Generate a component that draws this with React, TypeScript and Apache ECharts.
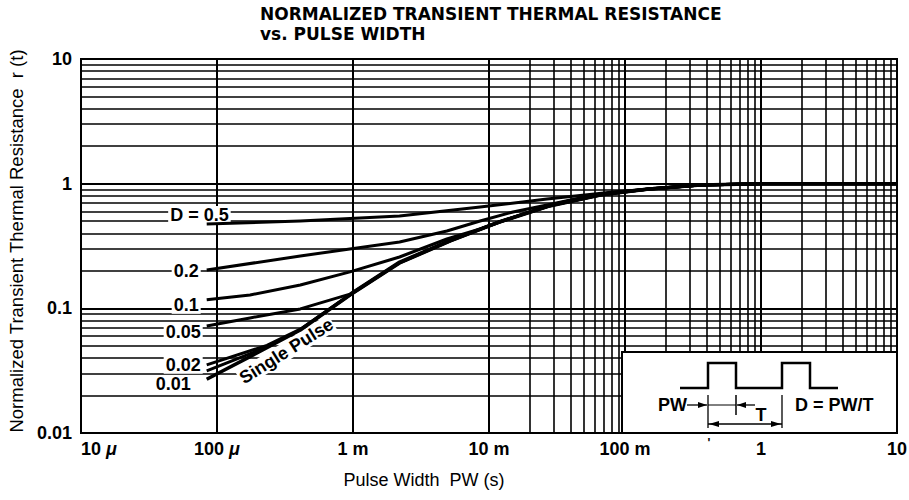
import React, { useEffect, useRef } from 'react';
import * as echarts from 'echarts';

const FONT = '"Liberation Sans", Arial, Helvetica, sans-serif';
const TITLE_FONT = '"DejaVu Sans", "Liberation Sans", Arial, sans-serif';

// ---- axes ----
const X_MIN = 1e-5;
const X_MAX = 10;
const Y_MIN = 0.01;
const Y_MAX = 10;
const xTickLabels = ['10 μ', '100 μ', '1 m', '10 m', '100 m', '1', '10'];
const yTickLabels = ['0.01', '0.1', '1', '10'];
const xDecades = [1e-5, 1e-4, 1e-3, 1e-2, 1e-1, 1];
const yDecades = [0.01, 0.1, 1];
const gridMultipliers = [2, 3, 4, 5, 6, 7, 8, 9];

// ---- curves: pulse width (s) and normalized r(t) ----
const pwD05 = [8.4e-5, 4.1e-4, 2.2e-3, 8.6e-3, 0.0267, 0.082, 0.36, 1, 10];
const rD05 = [0.475, 0.502, 0.551, 0.65, 0.754, 0.858, 0.976, 1, 1];

const pwD02 = [8.4e-5, 4.1e-4, 2.2e-3, 4.9e-3, 8.6e-3, 0.015, 0.0267, 0.0467, 0.082, 0.36, 1, 10];
const rD02 = [0.203, 0.263, 0.341, 0.417, 0.502, 0.593, 0.675, 0.768, 0.855, 0.976, 1, 1];

const pwD01 = [8.4e-5, 1.75e-4, 4.1e-4, 9.5e-4, 2.2e-3, 4.9e-3, 8.6e-3, 0.028, 0.066, 0.15, 0.36, 1, 10];
const rD01 = [0.117, 0.128, 0.154, 0.196, 0.258, 0.36, 0.433, 0.675, 0.827, 0.91, 0.976, 1, 1];

const pwD005 = [8.4e-5, 1.75e-4, 4.1e-4, 9.5e-4, 2.2e-3, 5.2e-3, 0.012, 0.028, 0.066, 0.15, 0.36, 1, 10];
const rD005 = [0.0722, 0.0838, 0.0989, 0.13, 0.236, 0.352, 0.498, 0.668, 0.815, 0.908, 0.976, 1, 1];

const pwD002 = [8.4e-5, 2.33e-4, 4.1e-4, 9.5e-4, 2.2e-3, 5.2e-3, 0.012, 0.028, 0.066, 0.15, 0.36, 1, 10];
const rD002 = [0.0352, 0.0505, 0.068, 0.129, 0.233, 0.349, 0.495, 0.665, 0.813, 0.907, 0.976, 1, 1];

const pwD001 = [8.4e-5, 2.33e-4, 4.1e-4, 9.5e-4, 2.2e-3, 5.2e-3, 0.012, 0.028, 0.066, 0.15, 0.36, 1, 10];
const rD001 = [0.0315, 0.049, 0.0675, 0.128, 0.232, 0.348, 0.494, 0.664, 0.812, 0.907, 0.976, 1, 1];

const pwSingle = [8.4e-5, 1.75e-4, 4.1e-4, 9.5e-4, 2.2e-3, 5.2e-3, 0.012, 0.028, 0.066, 0.15, 0.36, 1, 10];
const rSingle = [0.027, 0.041, 0.067, 0.128, 0.231, 0.347, 0.493, 0.663, 0.812, 0.907, 0.976, 1, 1];

const curveNames = ['D = 0.5', '0.2', '0.1', '0.05', '0.02', '0.01', 'Single Pulse'];
const curvePW = [pwD05, pwD02, pwD01, pwD005, pwD002, pwD001, pwSingle];
const curveR = [rD05, rD02, rD01, rD005, rD002, rD001, rSingle];

// label placement (pixel offsets from the first point of each D curve)
const labelOffsets: [number, number][] = [
  [24, -9],
  [-6, 1],
  [-6, 5],
  [-4, 6],
  [-4, 0],
  [-14, 13],
];

export default function App() {
  const ref = useRef<HTMLDivElement>(null);

  useEffect(() => {
    const el = ref.current!;
    const chart = echarts.init(el, null, { renderer: 'svg' });

    const gridLineData: any[] = [];
    xDecades.forEach((d) => gridMultipliers.forEach((m) => gridLineData.push({ xAxis: d * m })));
    yDecades.forEach((d) => gridMultipliers.forEach((m) => gridLineData.push({ yAxis: d * m })));

    const series: any[] = [
      {
        name: 'grid',
        type: 'line',
        data: [[X_MIN, Y_MIN]],
        symbol: 'none',
        silent: true,
        lineStyle: { width: 0 },
        markLine: {
          silent: true,
          z: 1,
          symbol: ['none', 'none'],
          label: { show: false },
          emphasis: { disabled: true },
          animation: false,
          lineStyle: { color: '#000', width: 1.6, type: 'solid', opacity: 1 },
          data: gridLineData,
        },
      },
    ];

    curveNames.forEach((name, i) => {
      series.push({
        name,
        type: 'line',
        z: 3,
        symbol: 'none',
        smooth: false,
        silent: true,
        lineStyle: { color: '#000', width: i === 6 ? 3.5 : 3, join: 'round' },
        data: curvePW[i].map((x, k) => [x, curveR[i][k]]),
      });
    });

    const option: any = {
      animation: false,
      backgroundColor: '#fff',
      title: {
        text: 'NORMALIZED TRANSIENT THERMAL RESISTANCE\nvs. PULSE WIDTH',
        left: 260,
        top: 4,
        padding: 0,
        textStyle: {
          fontFamily: TITLE_FONT,
          fontWeight: 'bold',
          fontSize: 17,
          lineHeight: 20,
          color: '#000',
        },
      },
      grid: {
        left: 81,
        right: 12,
        top: 59,
        bottom: 67,
        show: true,
        borderColor: '#000',
        borderWidth: 2,
        backgroundColor: '#fff',
        outerBoundsMode: 'none',
      },
      xAxis: {
        type: 'log',
        logBase: 10,
        min: X_MIN,
        max: X_MAX,
        name: 'Pulse Width  PW (s)',
        nameLocation: 'middle',
        nameGap: 38,
        nameTextStyle: {
          fontFamily: FONT,
          fontSize: 18,
          color: '#000',
          padding: [0, 130, 0, 0],
        },
        axisLine: { show: true, lineStyle: { color: '#000', width: 2 } },
        axisTick: { show: false },
        splitLine: { show: true, lineStyle: { color: '#000', width: 2 } },
        axisLabel: {
          margin: 7,
          color: '#000',
          fontFamily: FONT,
          fontWeight: 'bold',
          fontSize: 18,
          alignMinLabel: 'left',
          showMinLabel: true,
          showMaxLabel: true,
          formatter: (v: number) => {
            const idx = Math.round(Math.log10(v)) + 5;
            const s = xTickLabels[idx] ?? '';
            if (s.indexOf('μ') >= 0) {
              return '{n|' + s.replace(' μ', '') + '} {u|μ}';
            }
            return s;
          },
          rich: {
            n: { fontFamily: FONT, fontWeight: 'bold', fontSize: 18, color: '#000' },
            u: { fontFamily: FONT, fontWeight: 'bold', fontStyle: 'italic', fontSize: 18, color: '#000' },
          },
        },
      },
      yAxis: {
        type: 'log',
        logBase: 10,
        min: Y_MIN,
        max: Y_MAX,
        name: 'Normalized Transient Thermal Resistance  r (t)',
        nameLocation: 'middle',
        nameGap: 52,
        nameTextStyle: {
          fontFamily: FONT,
          fontSize: 18.5,
          color: '#000',
          padding: [0, 0, 0, 10],
        },
        axisLine: { show: true, lineStyle: { color: '#000', width: 2 } },
        axisTick: { show: false },
        splitLine: { show: true, lineStyle: { color: '#000', width: 2 } },
        axisLabel: {
          margin: 9,
          color: '#000',
          fontFamily: FONT,
          fontWeight: 'bold',
          fontSize: 18,
          showMinLabel: true,
          showMaxLabel: true,
          formatter: (v: number) => {
            const idx = Math.round(Math.log10(v)) + 2;
            return yTickLabels[idx] ?? '';
          },
        },
      },
      series,
    };

    chart.setOption(option);

    const toPx = (p: [number, number]) =>
      chart.convertToPixel({ gridIndex: 0 }, p) as unknown as number[];

    const graphics: any[] = [];

    // D labels at the start of each curve
    labelOffsets.forEach(([dx, dy], i) => {
      const [px, py] = toPx([curvePW[i][0], curveR[i][0]]);
      graphics.push({
        type: 'text',
        z: 2,
        x: px + dx,
        y: py + dy,
        silent: true,
        style: {
          text: curveNames[i],
          fontFamily: FONT,
          fontWeight: 'bold',
          fontSize: 18,
          fill: '#000',
          align: 'right',
          verticalAlign: 'middle',
          backgroundColor: '#fff',
          padding: [0, 2],
        },
      });
    });

    // Single Pulse label
    {
      const [px, py] = toPx([pwSingle[2], rSingle[2]]);
      graphics.push({
        type: 'text',
        z: 2,
        x: px - 14,
        y: py + 21,
        rotation: 0.56,
        silent: true,
        style: {
          text: 'Single Pulse',
          fontFamily: FONT,
          fontWeight: 'bold',
          fontSize: 18,
          fill: '#000',
          align: 'center',
          verticalAlign: 'middle',
          backgroundColor: '#fff',
          padding: [0, 1],
        },
      });
    }

    // inset with the pulse train
    const ink = { stroke: '#000', fill: 'none' };
    graphics.push(
      {
        type: 'rect',
        z: 10,
        silent: true,
        shape: { x: 622, y: 352, width: 275, height: 81 },
        style: { fill: '#fff', stroke: '#000', lineWidth: 2 },
      },
      {
        type: 'polyline',
        z: 11,
        silent: true,
        shape: {
          points: [
            [680, 388], [708, 388], [708, 363], [736, 363], [736, 388],
            [782, 388], [782, 363], [810, 363], [810, 388], [838, 388],
          ],
        },
        style: { ...ink, lineWidth: 2.5 },
      },
      { type: 'line', z: 11, silent: true, shape: { x1: 687, y1: 405, x2: 707, y2: 405 }, style: { ...ink, lineWidth: 1.3 } },
      { type: 'polygon', z: 11, silent: true, shape: { points: [[707, 405], [698, 402], [698, 408]] }, style: { fill: '#000' } },
      { type: 'line', z: 11, silent: true, shape: { x1: 708, y1: 395, x2: 708, y2: 428 }, style: { ...ink, lineWidth: 1.3 } },
      { type: 'line', z: 11, silent: true, shape: { x1: 708, y1: 405, x2: 736, y2: 405 }, style: { ...ink, lineWidth: 1 } },
      { type: 'line', z: 11, silent: true, shape: { x1: 736, y1: 395, x2: 736, y2: 415 }, style: { ...ink, lineWidth: 1.5 } },
      { type: 'line', z: 11, silent: true, shape: { x1: 737, y1: 405, x2: 755, y2: 405 }, style: { ...ink, lineWidth: 1.3 } },
      { type: 'polygon', z: 11, silent: true, shape: { points: [[737, 405], [746, 402], [746, 408]] }, style: { fill: '#000' } },
      { type: 'line', z: 11, silent: true, shape: { x1: 782, y1: 395, x2: 782, y2: 428 }, style: { ...ink, lineWidth: 1.3 } },
      { type: 'line', z: 11, silent: true, shape: { x1: 708, y1: 424, x2: 782, y2: 424 }, style: { ...ink, lineWidth: 1.5 } },
      { type: 'polygon', z: 11, silent: true, shape: { points: [[709, 424], [719, 421], [719, 427]] }, style: { fill: '#000' } },
      { type: 'polygon', z: 11, silent: true, shape: { points: [[781, 424], [771, 421], [771, 427]] }, style: { fill: '#000' } },
      {
        type: 'text', z: 11, silent: true, x: 687, y: 405,
        style: { text: 'PW', fontFamily: FONT, fontWeight: 'bold', fontSize: 18, fill: '#000', align: 'right', verticalAlign: 'middle' },
      },
      {
        type: 'text', z: 11, silent: true, x: 761, y: 415,
        style: { text: 'T', fontFamily: FONT, fontWeight: 'bold', fontSize: 18, fill: '#000', align: 'center', verticalAlign: 'middle' },
      },
      {
        type: 'text', z: 11, silent: true, x: 795, y: 405,
        style: { text: 'D = PW/T', fontFamily: FONT, fontWeight: 'bold', fontSize: 18, fill: '#000', align: 'left', verticalAlign: 'middle' },
      },
      {
        type: 'text', z: 11, silent: true, x: 709, y: 443,
        style: { text: "'", fontFamily: FONT, fontWeight: 'bold', fontSize: 12, fill: '#000', align: 'center', verticalAlign: 'middle' },
      }
    );

    chart.setOption({ graphic: graphics });

    return () => chart.dispose();
  }, []);

  return (
    <div
      ref={ref}
      style={{ position: 'fixed', left: 0, top: 0, width: 909, height: 500, background: '#fff' }}
    />
  );
}
